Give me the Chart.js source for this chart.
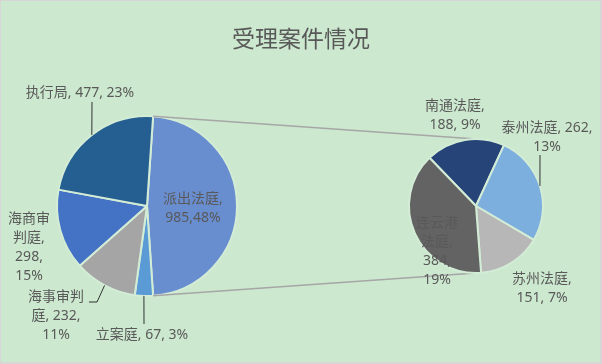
<!DOCTYPE html>
<html>
<head>
<meta charset="utf-8">
<script src="https://cdn.jsdelivr.net/npm/chart.js@4.4.1/dist/chart.umd.min.js"></script>
<style>
  html, body { margin: 0; padding: 0; background: #ffffff; }
  #wrap { position: relative; width: 602px; height: 364px; background: #cce8cf; overflow: hidden; }
  #wrap canvas { position: absolute; left: 0; top: 0; }
  #title {
    position: absolute; left: 0; top: 20px; width: 602px; height: 24px; line-height: 24px;
    text-align: center; font: 23px "Noto Sans CJK SC", sans-serif; color: #595959;
  }
  #frame {
    position: absolute; inset: 0; box-sizing: border-box; pointer-events: none;
    border: 1px solid #d6d6d6; border-right-width: 2px; border-bottom-width: 2px;
  }
</style>
</head>
<body>
<div id="wrap">
  <canvas id="main" width="602" height="364"></canvas>
  <canvas id="sub" width="602" height="364"></canvas>
  <div id="title">受理案件情况</div>
  <div id="frame"></div>
</div>
<script>
// ---------- data ----------
const MAIN_LABELS = ["派出法庭", "立案庭", "海事审判庭", "海商审判庭", "执行局"];
const MAIN_VALUES = [985, 67, 232, 298, 477];
const MAIN_PCTS = ["48%", "3%", "11%", "15%", "23%"];

const SUB_LABELS = ["南通法庭", "泰州法庭", "苏州法庭", "连云港法庭"];
const SUB_VALUES = [188, 262, 151, 384];
const SUB_PCTS = ["9%", "13%", "7%", "19%"];

// ---------- look ----------
const MAIN_COLORS = ["#698ed0", "#5b9bd5", "#a5a5a5", "#4472c4", "#255e91"];
const SUB_COLORS = ["#264478", "#7cafdd", "#b7b7b7", "#636363"];
const GAP = "#d3ecd6";
const TEXT = "#595959";
const FONT = '14px "Noto Sans", "Noto Sans CJK SC", sans-serif';
const LINE_H = 19;

// label placement: centre x, first line y, line breaks, leader points (label side first)
const MAIN_LAYOUT = [
  { x: 193, y: 199, sep: ",", breaks: [5] },
  { x: 142, y: 335, breaks: [], leader: [[144, 324]] },
  { x: 56, y: 297, breaks: [4, 7], leader: [[89, 302], [97, 302]] },
  { x: 29, y: 219, breaks: [3, 3, 5] },
  { x: 80, y: 93, breaks: [], leader: [[92, 102]] },
];
const SUB_LAYOUT = [
  { x: 455, y: 106, breaks: [5] },
  { x: 547, y: 128, breaks: [10], leader: [[540, 155]] },
  { x: 542, y: 279, breaks: [5] },
  { x: 437, y: 223, breaks: [3, 3, 5] },
];

function labelLines(name, value, pct, sep, breaks) {
  const full = name + sep + value + sep + pct;
  const lines = [];
  let i = 0;
  for (const c of breaks) { lines.push(full.slice(i, i + c).trim()); i += c; }
  if (i < full.length) lines.push(full.slice(i).trim());
  return lines;
}

function midPoint(arc) {
  const p = arc.getProps(["x", "y", "startAngle", "endAngle", "outerRadius"], true);
  const a = (p.startAngle + p.endAngle) / 2;
  return [p.x + Math.cos(a) * p.outerRadius, p.y + Math.sin(a) * p.outerRadius];
}

function labelPlugin(names, values, pcts, layout) {
  return {
    id: "pieLabels",
    afterDatasetsDraw(chart) {
      const ctx = chart.ctx;
      const arcs = chart.getDatasetMeta(0).data;
      ctx.save();
      ctx.strokeStyle = "#333333";
      ctx.lineWidth = 1;
      layout.forEach((l, i) => {
        if (!l.leader) return;
        const end = midPoint(arcs[i]);
        ctx.beginPath();
        ctx.moveTo(l.leader[0][0], l.leader[0][1]);
        l.leader.slice(1).forEach((pt) => ctx.lineTo(pt[0], pt[1]));
        ctx.lineTo(end[0], end[1]);
        ctx.stroke();
      });
      ctx.font = FONT;
      ctx.fillStyle = TEXT;
      ctx.textAlign = "center";
      ctx.textBaseline = "middle";
      layout.forEach((l, i) => {
        const lines = labelLines(names[i], values[i], pcts[i], l.sep || ", ", l.breaks);
        lines.forEach((t, k) => ctx.fillText(t, l.x, l.y + k * LINE_H));
      });
      ctx.restore();
    },
  };
}

function pieOpts(rotation, padding) {
  return {
    responsive: false,
    devicePixelRatio: 1,
    animation: false,
    rotation,
    layout: { padding },
    plugins: { legend: { display: false }, tooltip: { enabled: false } },
  };
}

const mainTotal = MAIN_VALUES.reduce((a, b) => a + b, 0);

const mainChart = new Chart(document.getElementById("main"), {
  type: "pie",
  data: {
    labels: MAIN_LABELS,
    datasets: [{ data: MAIN_VALUES, backgroundColor: MAIN_COLORS, borderColor: GAP, borderWidth: 2 }],
  },
  // the "other" slice faces the secondary pie
  options: pieOpts(90 - (MAIN_VALUES[0] / mainTotal) * 180, { left: 56, right: 364, top: 115, bottom: 67 }),
  plugins: [labelPlugin(MAIN_LABELS, MAIN_VALUES, MAIN_PCTS, MAIN_LAYOUT)],
});

// series lines from the expanded slice to the top and bottom of the secondary pie
const seriesLines = {
  id: "seriesLines",
  beforeDatasetsDraw(chart) {
    const big = mainChart.getDatasetMeta(0).data[0].getProps(["x", "y", "startAngle", "endAngle", "outerRadius"], true);
    const small = chart.getDatasetMeta(0).data[0].getProps(["x", "y", "outerRadius"], true);
    const ctx = chart.ctx;
    ctx.save();
    ctx.strokeStyle = "#a6a6a6";
    ctx.lineWidth = 1.5;
    ctx.beginPath();
    ctx.moveTo(big.x + Math.cos(big.startAngle) * big.outerRadius, big.y + Math.sin(big.startAngle) * big.outerRadius);
    ctx.lineTo(small.x, small.y - small.outerRadius);
    ctx.moveTo(big.x + Math.cos(big.endAngle) * big.outerRadius, big.y + Math.sin(big.endAngle) * big.outerRadius);
    ctx.lineTo(small.x, small.y + small.outerRadius);
    ctx.stroke();
    ctx.restore();
  },
};

new Chart(document.getElementById("sub"), {
  type: "pie",
  data: {
    labels: SUB_LABELS,
    datasets: [{ data: SUB_VALUES, backgroundColor: SUB_COLORS, borderColor: GAP, borderWidth: 2 }],
  },
  options: pieOpts(-44, { left: 408, right: 58, top: 138, bottom: 90 }),
  plugins: [seriesLines, labelPlugin(SUB_LABELS, SUB_VALUES, SUB_PCTS, SUB_LAYOUT)],
});
</script>
</body>
</html>
